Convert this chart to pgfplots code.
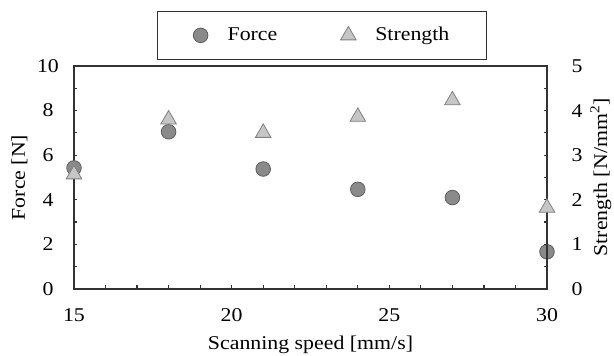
\documentclass[border=0pt]{standalone}
\usepackage{fontspec}
\setmainfont{Liberation Serif}[FakeStretch=1.12]
\usepackage{pgfplots}
\pgfplotsset{compat=1.18}
\definecolor{fc}{HTML}{8A8A8A}
\definecolor{fcb}{HTML}{5E5E5E}
\definecolor{sc}{HTML}{C6C6C6}
\definecolor{scb}{HTML}{808080}
\definecolor{ax}{HTML}{333333}
\begin{document}
\fontsize{19.5}{22}\selectfont
\begin{tikzpicture}
\path[use as bounding box] (-74pt,-67pt) rectangle (540pt,289pt);
\pgfplotsset{
  every axis/.append style={
    scale only axis, width=473pt, height=223pt, at={(0,0)}, anchor=south west,
    xmin=15, xmax=30, clip=false,
    axis line style={ax, line width=2pt},
    tick style={ax, line width=1.2pt},
    tick align=inside, major tick length=3.5pt, minor tick length=3.5pt,
    ticklabel style={font=\fontsize{19.5}{22}\selectfont},
    label style={font=\fontsize{19.5}{22}\selectfont},
    /pgf/number format/assume math mode=true,
  }
}
\begin{axis}[
  ymin=0, ymax=10, ytick={0,2,...,10}, minor y tick num=1,
  xtick={15,20,25,30}, minor x tick num=4,
  xtick pos=bottom, ytick pos=left,
  xlabel={Scanning speed [mm/s]}, ylabel={Force [N]},
  xticklabel style={anchor=center, yshift=-26pt},
  yticklabel style={anchor=center, xshift=-26pt},
  xlabel style={at={([yshift=-61pt]axis description cs:0.5,0)}, anchor=base},
  ylabel style={at={([xshift=-49pt]axis description cs:0,0.5)}, anchor=base},
  legend columns=2,
  legend image code/.code={\path[draw=none,fill=none] (-28pt,-10pt) rectangle (25pt,10pt); \draw[#1] plot coordinates {(0pt,0pt)};},
  legend style={at={(0.5243,1)}, anchor=south, yshift=6pt, draw=ax, line width=0.8pt,
    font=\fontsize{19.5}{22}\selectfont, inner xsep=15pt, inner ysep=14pt,
    /tikz/every even column/.append style={column sep=0pt}},
]
\addplot[only marks, mark=*, mark size=7.3pt, mark options={fill=fc, draw=fcb, line width=0.8pt}]
  coordinates {(15,5.43) (18,7.05) (21,5.38) (24,4.47) (27,4.1) (30,1.67)};
\addlegendentry{Force\rule{41pt}{0pt}}
\addlegendimage{only marks, mark=triangle*, mark size=9pt, mark options={fill=sc, draw=scb, line width=0.8pt}}
\addlegendentry{Strength\rule{20pt}{0pt}}
\end{axis}
\begin{axis}[
  ymin=0, ymax=5, ytick={0,1,...,5}, minor y tick num=1,
  axis y line*=right, axis x line=none,
  ylabel={Strength [N/mm\textsuperscript{2}]},
  yticklabel style={anchor=center, xshift=30pt},
  ylabel style={at={([xshift=60pt]axis description cs:1,0.5)}, anchor=base, rotate=0},
]
\addplot[only marks, mark=triangle*, mark size=9pt, mark options={fill=sc, draw=scb, line width=0.8pt}]
  coordinates {(15,2.57) (18,3.8) (21,3.5) (24,3.86) (27,4.23) (30,1.82)};
\end{axis}
\end{tikzpicture}
\end{document}
